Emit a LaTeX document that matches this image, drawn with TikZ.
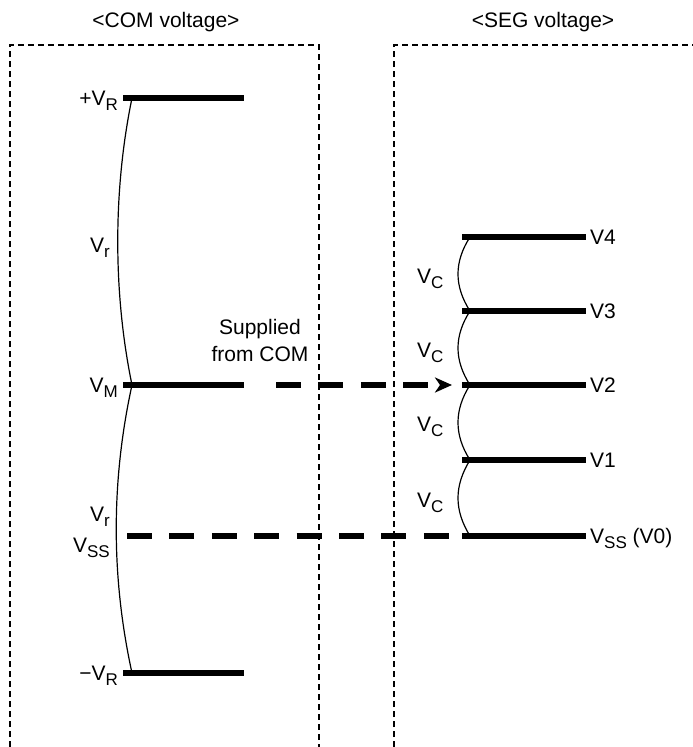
\documentclass[tikz,border=0pt]{standalone}
\usepackage{fontspec}
\setmainfont{Liberation Sans}
\usetikzlibrary{arrows.meta}
\newcommand\sbx[1]{\raisebox{-5.5pt}{\fontsize{17}{17}\selectfont #1}}
\begin{document}
\begin{tikzpicture}[x=1pt,y=-1pt,
  lvl/.style={line width=5.5pt},
  frame/.style={line width=1.6pt,dash pattern=on 6pt off 4pt},
  dashconn/.style={line width=5.5pt,dash pattern=on 25pt off 17.4pt},
  spring/.style={line width=1.2pt},
  lbl/.style={font=\fontsize{21}{27}\selectfont,inner sep=0pt},
]
\useasboundingbox (0,0) rectangle (693,747);
% frames
\coordinate (fa1) at (10,747); \coordinate (fa2) at (10,45);
\coordinate (fa3) at (319,45); \coordinate (fa4) at (319,747);
\coordinate (fb1) at (394,747); \coordinate (fb2) at (394,45);
\coordinate (fb3) at (693,45);
\draw[frame] (fa1) -- (fa2) -- (fa3) -- (fa4);
\draw[frame] (fb1) -- (fb2) -- (fb3);
% titles
\node[lbl] (tcom) at (166,22) {<COM voltage>};
\node[lbl] (tseg) at (543,22) {<SEG voltage>};
% COM levels
\foreach \n/\y in {cR/98,cM/385,cN/673}{
  \coordinate (\n a) at (123,\y);
  \coordinate (\n b) at (244,\y);
  \coordinate (\n k) at (132,\y);
  \draw[lvl] (\n a) -- (\n b);
}
\draw[spring] (cRk) .. controls (113,190) and (113,293) .. (cMk);
\draw[spring] (cMk) .. controls (111,481) and (111,577) .. (cNk);
% SEG levels
\foreach \n/\y in {s4/237,s3/311,s2/385,s1/460,s0/536}{
  \coordinate (\n a) at (462,\y);
  \coordinate (\n b) at (586,\y);
  \coordinate (\n k) at (470,\y);
  \draw[lvl] (\n a) -- (\n b);
}
\draw[spring] (s4k) .. controls (454,262) and (454,286) .. (s3k);
\draw[spring] (s3k) .. controls (454,336) and (454,360) .. (s2k);
\draw[spring] (s2k) .. controls (454,410) and (454,435) .. (s1k);
\draw[spring] (s1k) .. controls (454,486) and (454,510) .. (s0k);
% connectors
\coordinate (arS) at (276,385);
\coordinate (arE) at (452,385);
\draw[dashconn,-{Stealth[length=17pt,width=15pt,inset=5pt]}] (arS) -- (arE);
\coordinate (dsS) at (127,536);
\coordinate (dsE) at (451,536);
\draw[dashconn] (dsS) -- (dsE);
% COM labels
\node[lbl,anchor=base east] (lRp) at (118,105) {+V\sbx{R}};
\node[lbl,anchor=base east] (lr1) at (110,252) {V\sbx{r}};
\node[lbl,anchor=base east] (lM) at (118,392) {V\sbx{M}};
\node[lbl,anchor=base east] (lr2) at (110,521) {V\sbx{r}};
\node[lbl,anchor=base east] (lSS) at (110,552) {V\sbx{SS}};
\node[lbl,anchor=base east] (lRm) at (118,680) {−V\sbx{R}};
% SEG labels
\node[lbl,anchor=base west] (l4) at (590,244) {V4};
\node[lbl,anchor=base west] (l3) at (590,318) {V3};
\node[lbl,anchor=base west] (l2) at (590,392) {V2};
\node[lbl,anchor=base west] (l1) at (590,467) {V1};
\node[lbl,anchor=base west] (l0) at (590,543) {V\sbx{SS} (V0)};
\node[lbl,anchor=base west] (c1) at (417,283) {V\sbx{C}};
\node[lbl,anchor=base west] (c2) at (417,357) {V\sbx{C}};
\node[lbl,anchor=base west] (c3) at (417,431) {V\sbx{C}};
\node[lbl,anchor=base west] (c4) at (417,507) {V\sbx{C}};
% supplied
\node[lbl,align=center] (sup) at (260,340) {Supplied\\from COM};
\end{tikzpicture}
\end{document}
